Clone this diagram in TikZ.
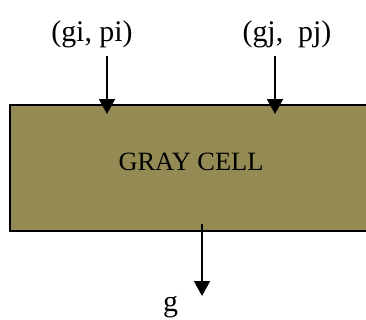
\documentclass[tikz,border=0pt]{standalone}
\usepackage{fontspec}
\setmainfont{Liberation Serif}
\usetikzlibrary{arrows.meta, positioning, calc}

\definecolor{cellolive}{RGB}{148,138,84}

\begin{document}
\begin{tikzpicture}[
    x=1bp, y=-1bp,
    cellbox/.style={draw=black, line width=2bp, fill=cellolive, minimum width=362bp, minimum height=126bp, inner sep=0pt, text depth=12.6bp, font=\fontsize{26.5}{30}\selectfont},
    sig/.style={inner sep=0pt, anchor=base, font=\fontsize{30}{34}\selectfont},
    arrow/.style={-{Triangle[width=16bp,length=15bp]}, line width=2bp, draw=black}
  ]
    \useasboundingbox (0,0) rectangle (366,320);

    % Nodes
    \node[cellbox] (cell) at (191,168) {GRAY CELL};

    \node[sig] (gpi) at (92,41) {(gi, pi)};
    \node[sig] (gpj) at (287,41) {(gj,\ \ pj)};
    \node[sig] (gout) at (170.5,311) {g};

    \coordinate (i-in) at (107,56);
    \coordinate (j-in) at (275,56);
    \coordinate (g-tip) at (202,296);

    % Connections
    \draw[arrow] (i-in) -- ([yshift=-10bp]i-in |- cell.north);
    \draw[arrow] (j-in) -- ([yshift=-10bp]j-in |- cell.north);
    \draw[arrow] ([yshift=8bp]g-tip |- cell.south) -- (g-tip);

  \end{tikzpicture}
\end{document}
